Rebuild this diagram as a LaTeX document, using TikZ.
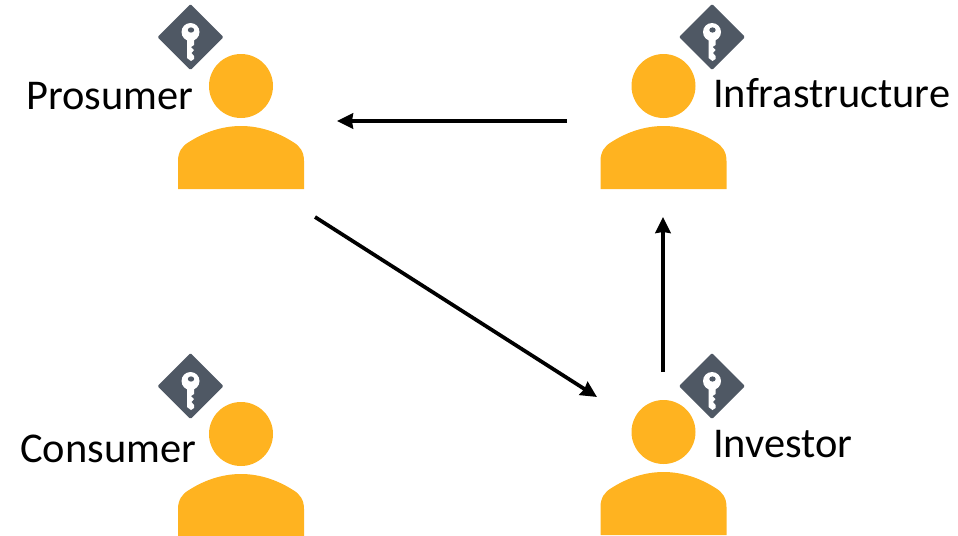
\documentclass[tikz,border=0pt]{standalone}
\usetikzlibrary{arrows.meta}
\usepackage{fontspec}
\setmainfont{Carlito}
\definecolor{personcolor}{HTML}{FFB320}
\definecolor{keycolor}{HTML}{4F5864}
\tikzset{
  person label/.style={font=\fontsize{31.8}{36}\selectfont,text=black,inner sep=0pt,anchor=base west},
  flow/.style={line width=2.8pt,-{Stealth[length=12pt,width=11.5pt,inset=0.8pt]}},
  pics/user/.style={code={
    \fill[personcolor] (0,0) circle (32);
    \fill[personcolor] (-63,103) -- (-63,75) .. controls (-63,66) and (-59,60) .. (-52,56) .. controls (-38,47) and (-20,40) .. (0,40) .. controls (20,40) and (38,47) .. (52,56) .. controls (59,60) and (63,66) .. (63,75) -- (63,103) -- cycle;
  }},
  pics/keybadge/.style={code={
    \fill[keycolor,rounded corners=1pt] (0,-33) -- (33,0) -- (0,33) -- (-33,0) -- cycle;
    \fill[white] (0,-5) circle (9);
    \fill[white] (-3.5,2) -- (3.5,2) -- (3.5,8) -- (0.5,10) -- (3.5,13) -- (1,16) -- (3.5,19) -- (3.5,22) -- (0.5,24) -- (-3.5,21) -- cycle;
    \fill[keycolor] (0.5,-7) ellipse (3.2 and 2.6);
  }}
}
\begin{document}
\begin{tikzpicture}[x=0.75pt,y=-0.75pt]
  \useasboundingbox (0,0) rectangle (958,536);
  \pic (prosumer) at (241,86) {user};
  \pic (infra) at (663.5,86) {user};
  \pic (consumer) at (241,434) {user};
  \pic (investor) at (663.5,432) {user};

  \pic (prosumerkey) at (190.5,37) {keybadge};
  \pic (infrakey) at (712,37) {keybadge};
  \pic (consumerkey) at (190.5,386) {keybadge};
  \pic (investorkey) at (712,386) {keybadge};

  \node[person label] (prosumerlabel) at (26,109) {Prosumer};
  \node[person label] (infralabel) at (713,107.5) {Infrastructure};
  \node[person label] (consumerlabel) at (20,462) {Consumer};
  \node[person label] (investorlabel) at (713,457) {Investor};

  \coordinate (infraout) at (567,121);
  \coordinate (prosumerin) at (337,121);
  \coordinate (prosumerout) at (315,217);
  \coordinate (investorin) at (597,397);
  \coordinate (investorout) at (663,372);
  \coordinate (infrain) at (663,217);

  \draw[flow] (infraout) -- (prosumerin);
  \draw[flow] (prosumerout) -- (investorin);
  \draw[flow] (investorout) -- (infrain);
\end{tikzpicture}
\end{document}
